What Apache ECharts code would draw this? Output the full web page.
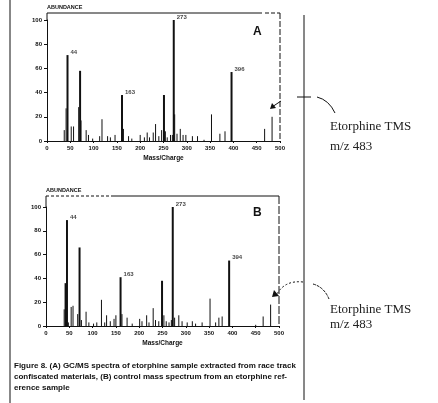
<!DOCTYPE html>
<html>
<head>
<meta charset="utf-8">
<script src="https://cdn.jsdelivr.net/npm/echarts@6/dist/echarts.min.js"></script>
<style>
  html, body { margin: 0; padding: 0; background: #fff; }
  #chart { width: 438px; height: 403px; }
</style>
</head>
<body>
<div id="chart"></div>
<script>
// spectrum A: sample extract
const mzA = [37, 41, 44, 52, 57, 68, 71, 73, 84, 89, 98, 113, 118, 130, 136, 146, 161, 164, 175, 182,
  200, 209, 215, 220, 228, 233, 240, 246, 251, 254, 258, 265, 269, 272, 274, 279, 286, 292, 298,
  312, 323, 337, 353, 371, 382, 396, 467, 483];
const abA = [9, 27, 71, 12, 12, 28, 58, 17, 9, 5, 2, 4, 18, 4, 3, 5, 38, 10, 4, 2,
  5, 3, 7, 3, 7, 14, 4, 9, 38, 8, 3, 5, 5, 100, 22, 6, 10, 5, 5,
  4, 4, 1, 22, 6, 8, 57, 10, 20];

// spectrum B: reference sample
const mzB = [39, 42, 45, 48, 54, 58, 68, 72, 76, 86, 92, 102, 109, 119, 126, 130, 138, 146, 150, 160,
  163, 174, 185, 201, 206, 216, 221, 230, 235, 242, 249, 253, 258, 264, 269, 272, 276, 285, 292,
  303, 314, 321, 335, 352, 364, 371, 378, 393, 450, 466, 482];
const abB = [14, 36, 89, 3, 16, 17, 10, 66, 5, 12, 3, 2, 3, 22, 3, 9, 4, 6, 9, 41,
  10, 7, 2, 6, 4, 9, 3, 15, 5, 4, 38, 9, 4, 3, 5, 100, 7, 9, 4,
  3, 4, 2, 3, 23, 3, 7, 8, 55, 1, 8, 18];

// labelled peaks
const labelMzA = [44, 161, 272, 396];
const labelTextA = ['44', '163', '273', '396'];
const labelMzB = [45, 160, 272, 393];
const labelTextB = ['44', '163', '273', '394'];

const xTicks = { min: 0, max: 500, interval: 50 };
const yTicks = { min: 0, max: 100, interval: 20 };

const ink = '#111';
const font = 'Liberation Sans, Arial, sans-serif';

const pairs = (mz, ab) => mz.map((m, i) => [m, ab[i]]);
const labelPoints = (mzs, mz, ab) => mzs.map((m) => [m, ab[mz.indexOf(m)]]);

const xAxis = (gridIndex) => ({
  gridIndex,
  type: 'value',
  ...xTicks,
  name: 'Mass/Charge',
  nameLocation: 'middle',
  nameGap: 14,
  nameTextStyle: { color: ink, fontSize: 6.5, fontWeight: 'bold', fontFamily: font },
  axisLine: { lineStyle: { color: ink, width: 1 } },
  axisTick: { show: true, length: 2, lineStyle: { color: ink } },
  axisLabel: { color: ink, fontSize: 6, fontWeight: 'bold', fontFamily: font, margin: 4 },
  splitLine: { show: false },
});

const yAxis = (gridIndex) => ({
  gridIndex,
  type: 'value',
  ...yTicks,
  axisLine: { show: true, lineStyle: { color: ink, width: 1 } },
  axisTick: { show: true, length: 3, lineStyle: { color: ink } },
  axisLabel: { color: ink, fontSize: 6, fontWeight: 'bold', fontFamily: font, margin: 5 },
  splitLine: { show: false },
});

const sticks = (index, data) => ({
  type: 'custom',
  xAxisIndex: index,
  yAxisIndex: index,
  data,
  encode: { x: 0, y: 1 },
  silent: true,
  renderItem: (params, api) => {
    const x = api.value(0);
    const y = api.value(1);
    const p0 = api.coord([x, 0]);
    const p1 = api.coord([x, y]);
    return {
      type: 'line',
      shape: { x1: p0[0], y1: p0[1], x2: p1[0], y2: p1[1] },
      style: { stroke: ink, lineWidth: y > 30 ? 2 : 1 },
    };
  },
});

const peakLabels = (index, data, texts) => ({
  type: 'scatter',
  xAxisIndex: index,
  yAxisIndex: index,
  data,
  symbolSize: 0,
  silent: true,
  label: {
    show: true,
    position: 'right',
    distance: 3,
    offset: [0, -3],
    formatter: (p) => texts[p.dataIndex],
    color: ink,
    fontSize: 6,
    fontWeight: 'bold',
    fontFamily: font,
  },
});

const line = (x1, y1, x2, y2, dash, w) => ({
  type: 'line',
  silent: true,
  shape: { x1, y1, x2, y2 },
  style: { stroke: ink, lineWidth: w || 1, lineDash: dash || null },
});

const text = (t, x, y, f, extra) => ({
  type: 'text',
  silent: true,
  style: Object.assign({ text: t, x, y, font: f, fill: ink }, extra || {}),
});

const serif = '13px "Liberation Serif", "Times New Roman", serif';
const cap = 'bold 8px ' + font;

const graphic = [
  // page borders of the scan
  line(10, 0, 10, 403, null, 1),
  line(304, 15, 304, 400, null, 1),

  // frame A
  line(47, 13, 47, 20),
  line(47, 13, 262, 13),
  line(265, 13, 280, 13, [4, 2]),
  line(280, 13, 280, 141, [6, 2]),
  text('ABUNDANCE', 47, 4, 'bold 5.5px ' + font),
  text('A', 253, 26, 'bold 12px ' + font),

  // frame B
  line(46, 196, 46, 207),
  line(46, 196, 112, 196, [3, 2]),
  line(112, 196, 279, 196),
  line(279, 196, 279, 326, [8, 2]),
  text('ABUNDANCE', 46, 187, 'bold 5.5px ' + font),
  text('B', 253, 207, 'bold 12px ' + font),

  // annotation A
  line(297, 97, 311, 97),
  {
    type: 'bezierCurve', silent: true,
    shape: { x1: 317, y1: 97, x2: 335, y2: 113, cpx1: 329, cpy1: 100 },
    style: { stroke: ink, lineWidth: 1, fill: null },
  },
  line(281, 101, 272, 107),
  { type: 'polygon', silent: true, shape: { points: [[270, 109], [272, 103], [276, 108]] }, style: { fill: ink } },
  text('Etorphine TMS', 330, 120, serif, { fill: '#222' }),
  text('m/z 483', 330, 140, serif, { fill: '#222' }),

  // annotation B
  {
    type: 'bezierCurve', silent: true,
    shape: { x1: 303, y1: 282, x2: 277, y2: 294, cpx1: 285, cpy1: 280 },
    style: { stroke: ink, lineWidth: 1, fill: null, lineDash: [2, 2] },
  },
  { type: 'polygon', silent: true, shape: { points: [[272, 297], [274, 290], [279, 296]] }, style: { fill: ink } },
  {
    type: 'bezierCurve', silent: true,
    shape: { x1: 313, y1: 284, x2: 329, y2: 299, cpx1: 324, cpy1: 287 },
    style: { stroke: ink, lineWidth: 1, fill: null, lineDash: [3, 1] },
  },
  text('Etorphine TMS', 330, 303, serif, { fill: '#222' }),
  text('m/z 483', 330, 318, serif, { fill: '#222' }),

  // caption
  text('Figure 8. (A) GC/MS spectra of etorphine sample extracted from race track', 14, 362, cap),
  text('confiscated materials, (B) control mass spectrum from an etorphine ref-', 14, 373, cap),
  text('erence sample', 14, 384, cap),
];

const chart = echarts.init(document.getElementById('chart'), null, { renderer: 'canvas' });
chart.setOption({
  animation: false,
  backgroundColor: '#fff',
  grid: [
    { left: 47, top: 20, width: 233, height: 121 },
    { left: 46, top: 207, width: 233, height: 119 },
  ],
  xAxis: [xAxis(0), xAxis(1)],
  yAxis: [yAxis(0), yAxis(1)],
  series: [
    sticks(0, pairs(mzA, abA)),
    sticks(1, pairs(mzB, abB)),
    peakLabels(0, labelPoints(labelMzA, mzA, abA), labelTextA),
    peakLabels(1, labelPoints(labelMzB, mzB, abB), labelTextB),
  ],
  graphic,
});
</script>
</body>
</html>
